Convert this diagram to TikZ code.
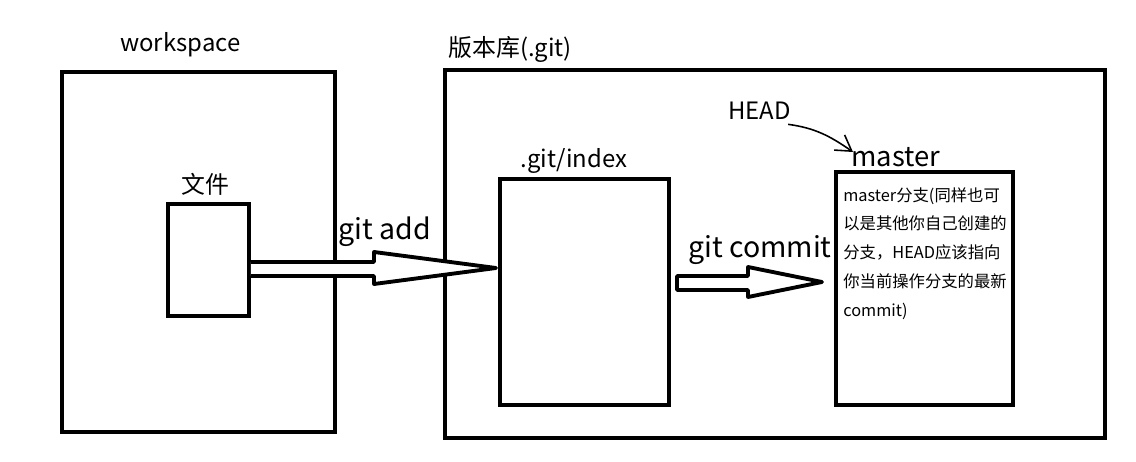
\documentclass[tikz,border=0pt]{standalone}
\usepackage{fontspec}
\setmainfont{Noto Sans CJK SC}
\usetikzlibrary{calc,arrows.meta}
\tikzset{
  frame/.style={draw, line width=2.2pt, inner sep=0pt},
  lbl/.style={anchor=base west, inner sep=0pt, font=\fontsize{13.6}{16}\selectfont},
  cmd/.style={anchor=base west, inner sep=0pt, font=\fontsize{16.2}{19}\selectfont},
  hollow/.style={draw, line width=2.2pt, line join=round, fill=white},
}

\begin{document}
\begin{tikzpicture}[x=0.02cm, y=-0.02cm]
  \useasboundingbox (0,0) rectangle (1136,462);
  % place boxes
  \node[frame, minimum width=5.46cm, minimum height=7.2cm] (workspace) at (198.5,252) {};
  \node[frame, minimum width=1.62cm, minimum height=2.24cm] (file) at (208.5,260) {};
  \node[frame, minimum width=13.2cm, minimum height=7.36cm] (repo) at (775,254) {};
  \node[frame, minimum width=3.38cm, minimum height=4.52cm] (index) at (584.5,292) {};
  \node[frame, minimum width=3.54cm, minimum height=4.66cm] (master) at (924.5,288.5) {};
  % place labels
  \node[lbl] (wslabel) at (120,52) {workspace};
  \node[lbl] (repolabel) at (448,57) {版本库(.git)};
  \node[lbl] (filelabel) at (181,194) {文件};
  \node[lbl] (indexlabel) at (520,168) {.git/index};
  \node[lbl] (head) at (728,120) {HEAD};
  \node[lbl, font=\fontsize{15.6}{18}\selectfont] (masterlabel) at (851,167) {master};
  \node[anchor=north west, align=left, inner sep=0pt, font=\fontsize{9.3}{16.4}\selectfont] (note) at (843,187)
    {master分支(同样也可\\以是其他你自己创建的\\分支，HEAD应该指向\\你当前操作分支的最新\\commit)};
  \node[cmd] (add) at (338,240) {git add};
  \node[cmd] (commit) at (688,258) {git commit};
  % draw arrows
  \coordinate (addtip) at (496,268);
  \coordinate (committip) at (822,282);
  \coordinate (headtip) at (853,152);
  \draw[hollow] (file.east |- 0,262) -- (374,262) -- (374,252) -- (addtip)
    -- (374,284) -- (374,276) -- (file.east |- 0,276);
  \draw[hollow] (677,276) -- (748,276) -- (748,267) -- (committip)
    -- (748,297) -- (748,290) -- (677,290) -- cycle;
  % HEAD points to master
  \draw[line width=0.9pt, -{Straight Barb[length=8.6pt, width=10.5pt]}]
    ($(head.south east)+(-3,4)$) .. controls (815,128) and (830,136) .. (headtip);
\end{tikzpicture}
\end{document}
